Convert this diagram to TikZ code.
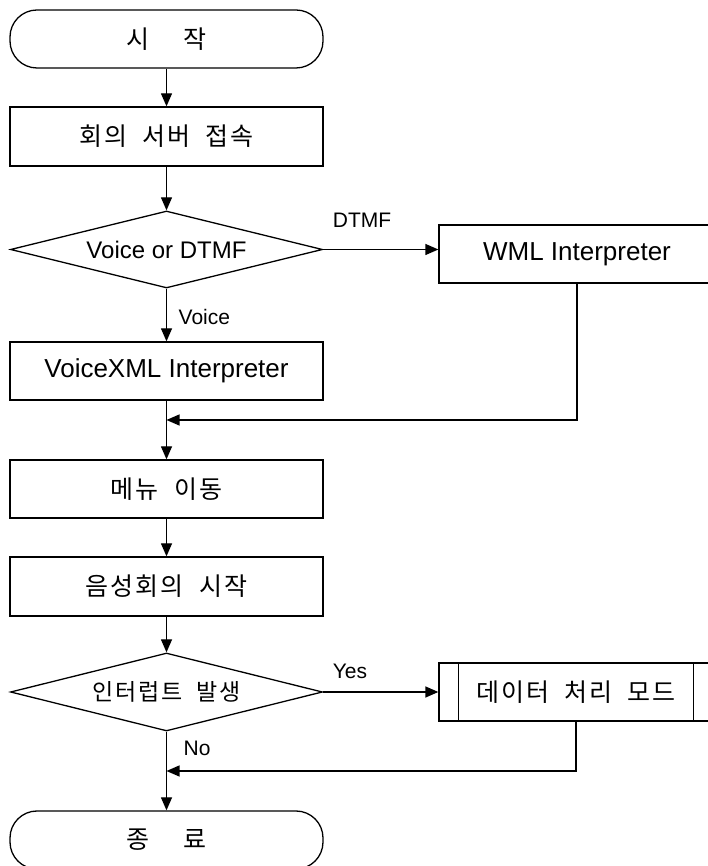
\documentclass[tikz,border=0pt]{standalone}
\usepackage{fontspec}
\setmainfont{Liberation Sans}
\newfontfamily\kr[LetterSpace=8,WordSpace=2]{Noto Sans CJK KR}
\usetikzlibrary{shapes.geometric,arrows.meta,calc}

\begin{document}
\begin{tikzpicture}[x=1pt,y=1pt,
  line width=1.3pt,
  every node/.style={font=\fontsize{26}{30}\selectfont},
  kotext/.style={font=\kr\fontsize{25}{30}\selectfont},
  proc/.style={draw, rectangle, minimum width=313pt, minimum height=58pt, inner sep=0pt},
  term/.style={draw, rectangle, rounded corners=27pt, minimum width=313pt, minimum height=58pt, inner sep=0pt},
  decision/.style={draw, diamond, aspect=4, minimum width=312pt, minimum height=77pt, inner sep=0pt,
    font=\fontsize{24}{28}\selectfont},
  lbl/.style={font=\fontsize{21}{25}\selectfont, inner sep=0pt},
  flow/.style={-{Triangle[length=13pt,width=11pt]}},
]
\useasboundingbox (0,0) rectangle (707,866);

% main column
\node[term, kotext] (start) at (166.5,827) {시\hspace{34pt}작};
\node[proc, kotext, minimum height=59pt] (conn) at (166.5,729.5) {회의 서버 접속};
\node[decision] (d1) at (166.5,616.5) {Voice or DTMF};
\node[proc, minimum width=276pt] (wml) at (577,612) {WML Interpreter};
\node[proc] (vxml) at (166.5,495) {VoiceXML Interpreter};
\coordinate (j1) at (166.5,446);
\node[proc, kotext] (menu) at (166.5,377) {메뉴 이동};
\node[proc, kotext, minimum height=59pt] (conf) at (166.5,279.5) {음성회의 시작};
\node[decision, minimum height=78pt, font=\kr\fontsize{23}{27}\selectfont] (d2) at (166.5,174) {인터럽트 발생};
\node[proc, kotext, minimum width=274pt] (data) at (576,174) {데이터 처리 모드};
\draw ([xshift=20pt]data.north west) -- ([xshift=20pt]data.south west);
\draw ([xshift=-20pt]data.north east) -- ([xshift=-20pt]data.south east);
\coordinate (j2) at (166.5,95);
\node[term, kotext] (end) at (166.5,26) {종\hspace{34pt}료};

% connectors
\draw[flow] (start) -- (conn);
\draw[flow] (conn) -- (d1);
\draw[flow] (d1.east) -- (d1.east -| wml.west);
\draw[flow] (d1) -- (vxml);
\draw[flow] (wml.south) |- (j1);
\draw[flow] (vxml) -- (menu);
\draw[flow] (menu) -- (conf);
\draw[flow] (conf) -- (d2);
\draw[flow] (d2.east) -- (d2.east -| data.west);
\draw[flow] (data.south) |- (j2);
\draw[flow] (d2) -- (end);

% branch labels
\node[lbl] (tdtmf) at (362,646) {DTMF};
\node[lbl, anchor=west] (tvoice) at (178,549) {Voice};
\node[lbl] (tyes) at (350,195) {Yes};
\node[lbl, anchor=west] (tno) at (183,118) {No};
\end{tikzpicture}
\end{document}
